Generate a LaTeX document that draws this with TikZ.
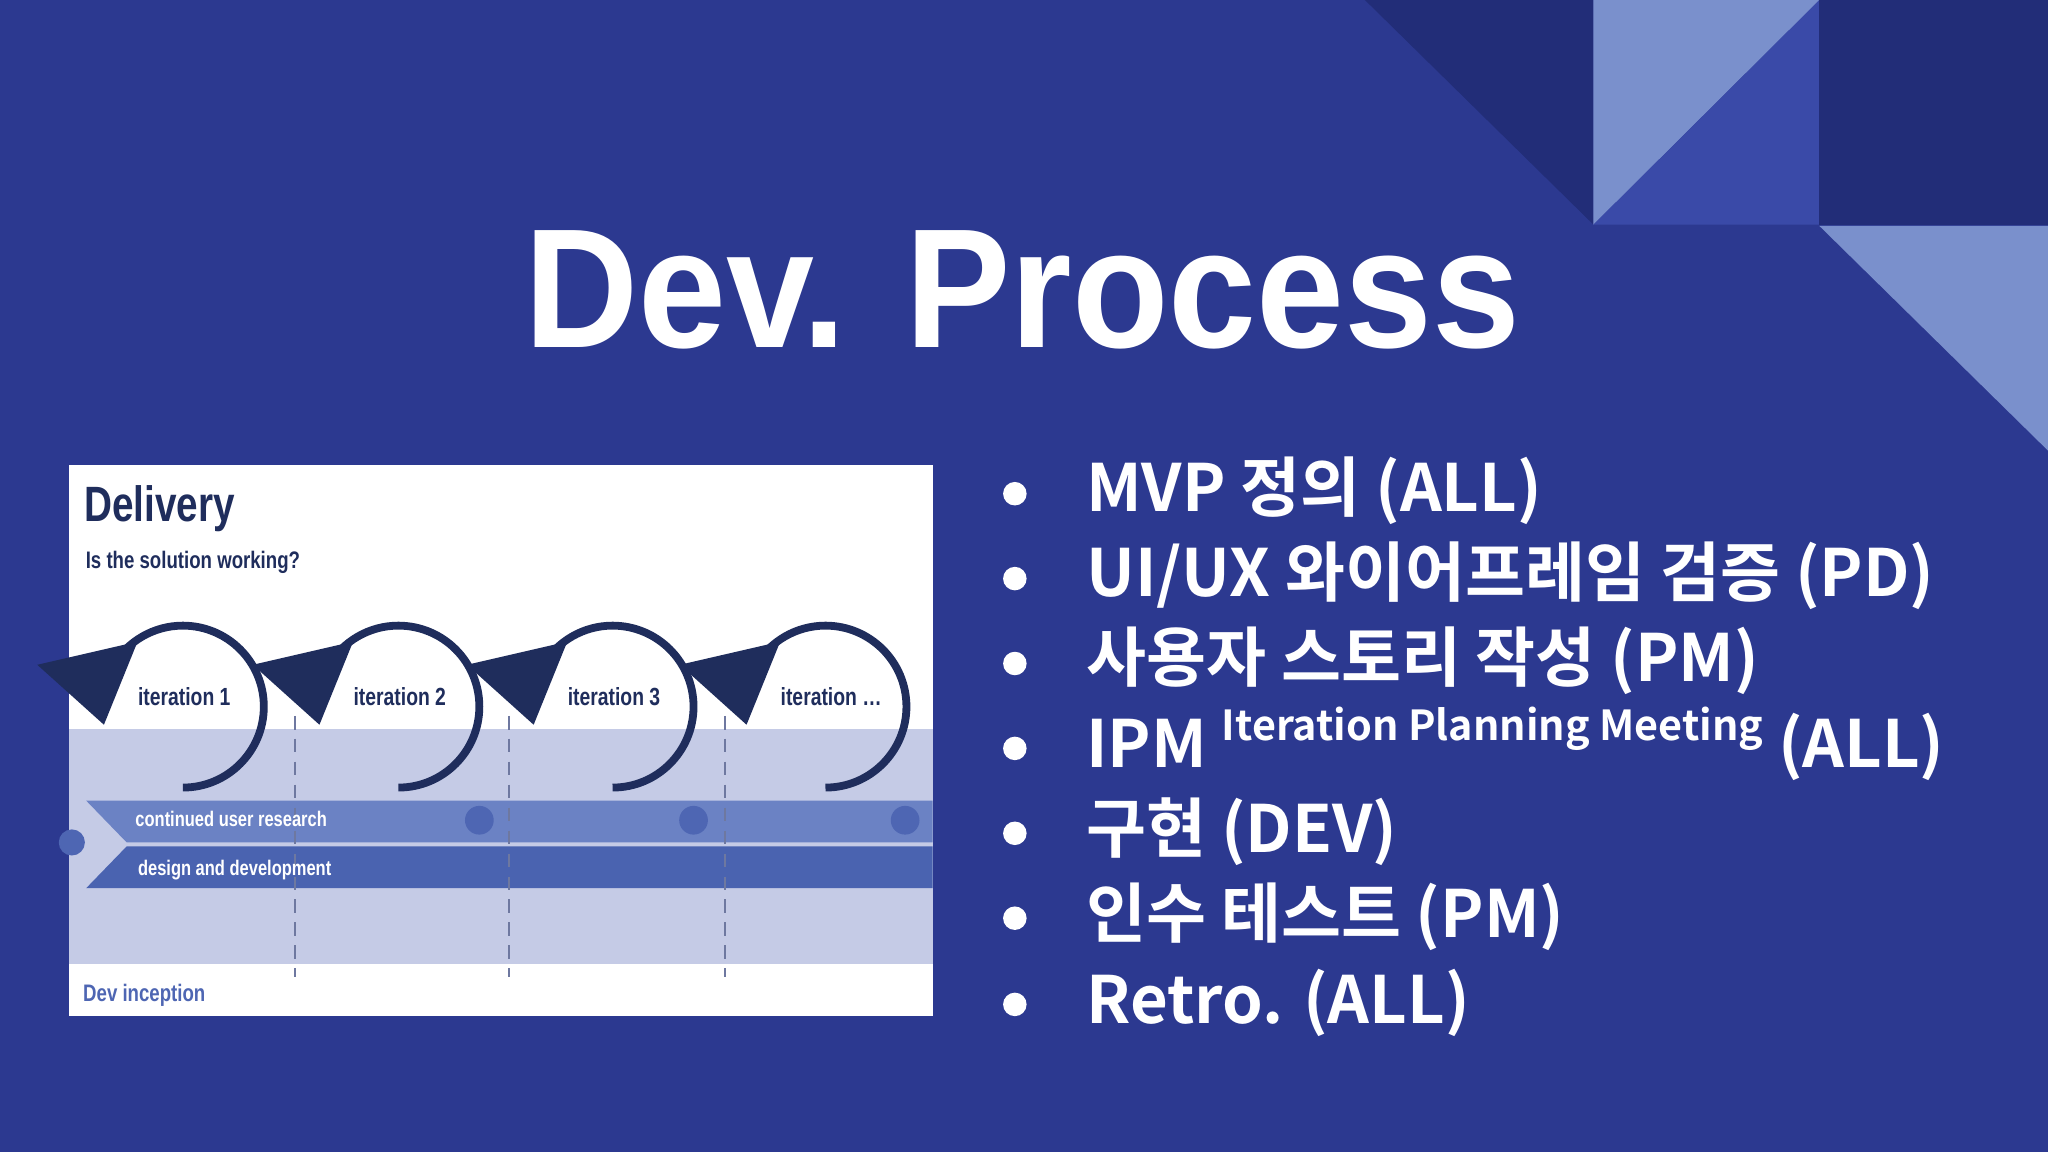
\documentclass[tikz,border=0pt]{standalone}
\usepackage{fontspec}
\setmainfont{Liberation Sans}
\newfontfamily\kr{Noto Sans CJK KR}[BoldFont={Noto Sans CJK KR Bold}]
\newfontfamily\cond{Liberation Sans}[FakeStretch=0.78]
\usetikzlibrary{arrows.meta}
\definecolor{bg}{RGB}{44,57,144}
\definecolor{dk}{RGB}{34,45,120}
\definecolor{lt}{RGB}{122,144,204}
\definecolor{md}{RGB}{58,74,168}
\definecolor{navy}{RGB}{31,45,92}
\definecolor{band}{RGB}{197,203,230}
\definecolor{bar1}{RGB}{107,130,196}
\definecolor{bar2}{RGB}{74,99,176}
\definecolor{dotc}{RGB}{78,102,179}
\definecolor{dash}{RGB}{110,120,160}
\newcommand{\itdots}{iteration \ldots}
\begin{document}
\begin{tikzpicture}[x=0.01cm,y=-0.01cm,
  bul/.style={anchor=base west,text=white,font=\kr\bfseries\fontsize{14.2}{16}\selectfont,inner sep=0},
  itl/.style={text=navy,font=\cond\bfseries\fontsize{5.4}{6}\selectfont,inner sep=0,anchor=base west},
  bartxt/.style={text=white,font=\cond\bfseries\fontsize{4.6}{5}\selectfont,inner sep=0,anchor=base west},
  arr/.style={draw=navy,line width=1.7pt,-{Triangle[width=22,length=16]}},
  vline/.style={draw=dash,densely dashed,line width=0.4pt}]
\useasboundingbox (0,0) rectangle (1568,882);
\fill[bg] (0,0) rectangle (1568,882);
% decorative triangles
\fill[dk] (1045,0) -- (1220,0) -- (1220,172) -- cycle;
\fill[lt] (1220,0) -- (1393,0) -- (1220,172) -- cycle;
\fill[md] (1393,0) -- (1393,172) -- (1220,172) -- cycle;
\fill[dk] (1393,0) rectangle (1568,172);
\fill[lt] (1393,173) -- (1568,173) -- (1568,345) -- cycle;
% title
\node[anchor=base,text=white,font=\bfseries\fontsize{37}{40}\selectfont,inner sep=0,xscale=0.93] (title) at (783,266) {Dev. Process};
% picture panel
\fill[white] (53,356) rectangle (714,778);
\fill[band] (53,558) rectangle (714,738);
\fill[bar1] (66,613) -- (714,613) -- (714,645) -- (97,645) -- cycle;
\fill[bar2] (97,648) -- (714,648) -- (714,680) -- (66,680) -- cycle;
\fill[dotc] (55,645) circle (10);
\foreach \x in {367,531,693} \fill[dotc] (\x,628) circle (11);
\foreach \x in {226,390,555} \draw[vline] (\x,548) -- (\x,748);
\node[anchor=base west,text=navy,font=\cond\bfseries\fontsize{10.8}{12}\selectfont,inner sep=0] (deliv) at (64,399) {Delivery};
\node[anchor=base west,text=navy,font=\cond\bfseries\fontsize{5.2}{6}\selectfont,inner sep=0] (q) at (65,435) {Is the solution working?};
\foreach \i/\cx/\lab in {1/140/{iteration 1},2/305/{iteration 2},3/469/{iteration 3},4/632/{\itdots}}{
  \coordinate (c\i) at (\cx,541);
  \draw[arr] ([shift={(0,62)}]c\i) arc[start angle=90,end angle=-193,radius=62];
  \node[itl] (it\i) at (\cx-35,540) {\lab};
}
\node[bartxt] (b1) at (103,633) {continued user research};
\node[bartxt] (b2) at (105,670) {design and development};
\node[anchor=base west,text=dotc,font=\cond\bfseries\fontsize{5.2}{6}\selectfont,inner sep=0] (dev) at (63,767) {Dev inception};
% bullets
\foreach \y in {378,443,508,573,638,703,769} \fill[white] (777,\y) circle (9);
\node[bul] (l1) at (831,392) {MVP 정의 (ALL)};
\node[bul] (l2) at (831,457) {UI/UX 와이어프레임 검증 (PD)};
\node[bul] (l3) at (831,522) {사용자 스토리 작성 (PM)};
\node[bul] (l4) at (831,588) {IPM {\fontsize{9}{10}\selectfont\raisebox{6pt}{Iteration Planning Meeting}} (ALL)};
\node[bul] (l5) at (831,653) {구현 (DEV)};
\node[bul] (l6) at (831,718) {인수 테스트 (PM)};
\node[bul] (l7) at (831,784) {Retro. (ALL)};
\end{tikzpicture}
\end{document}
